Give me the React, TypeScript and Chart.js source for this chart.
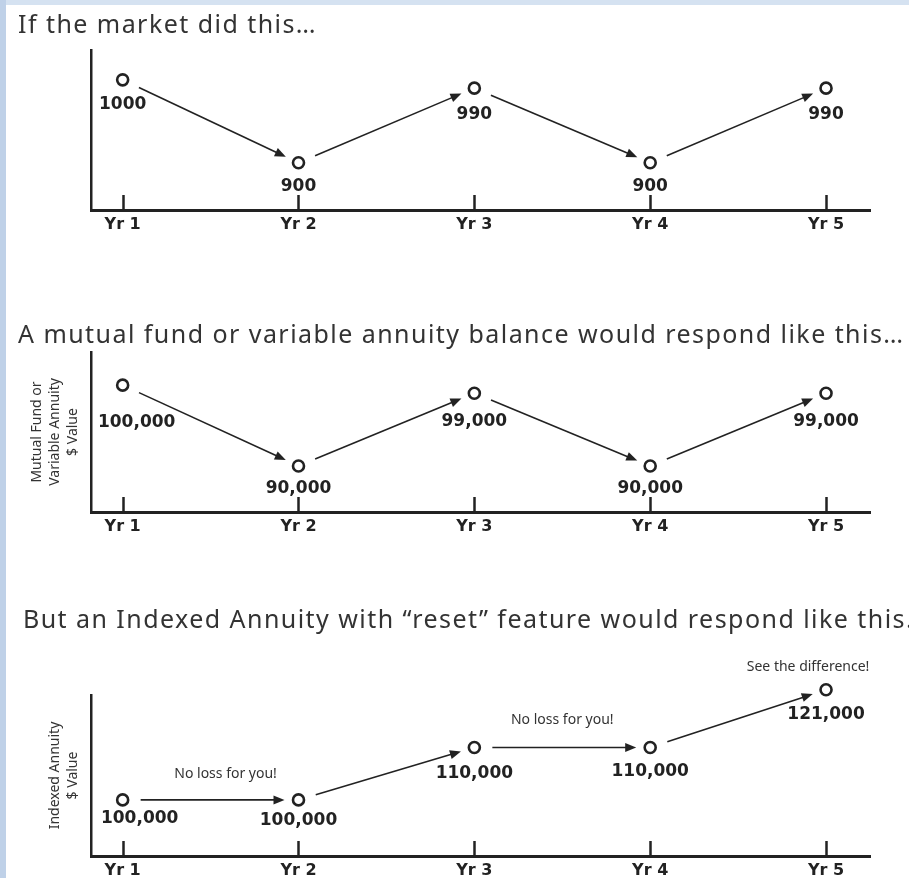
import React, { useEffect, useRef } from "react";
import { Chart, registerables } from "chart.js";

Chart.register(...registerables);

// ---------- data ----------
const years = ["Yr 1", "Yr 2", "Yr 3", "Yr 4", "Yr 5"];
const marketValues = [1000, 900, 990, 900, 990];
const fundValues = [100000, 90000, 99000, 90000, 99000];
const indexedValues = [100000, 100000, 110000, 110000, 121000];

const marketTitle = "If the market did this…";
const fundTitle = "A mutual fund or variable annuity balance would respond like this…";
const indexedTitle = "But an Indexed Annuity with “reset” feature would respond like this…";

const fundAxisTitle = ["Mutual Fund or", "Variable Annuity", "$ Value"];
const indexedAxisTitle = ["Indexed Annuity", "$ Value"];

const indexedNotes = [
  { from: 0, to: 1, text: "No loss for you!" },
  { from: 2, to: 3, text: "No loss for you!" },
  { from: 4, to: 4, text: "See the difference!" },
];

// ---------- styling / layout ----------
const INK = "#222222";
const TEXT = "#333333";
const W = 909;

type Note = { from: number; to: number; text: string };
type Spec = {
  top: number;
  height: number;
  values: number[];
  title: string;
  titleX: number;
  titleY: number;
  axisTitle: string[] | null;
  axisTitlePad: number;
  yMin: number;
  yMax: number;
  padTop: number;
  padBottom: number;
  labelOffsets: [number, number][];
  notes: Note[];
  noteOffsets: [number, number][];
  format: (v: number) => string;
};

const plain = (v: number) => String(v);
const grouped = (v: number) => v.toLocaleString("en-US");

const specs: Spec[] = [
  {
    top: 5,
    height: 240,
    values: marketValues,
    title: marketTitle,
    titleX: 18,
    titleY: 28,
    axisTitle: null,
    axisTitlePad: 0,
    yMin: 843,
    yMax: 1036,
    padTop: 45,
    padBottom: 15,
    labelOffsets: [[0, 25], [0, 24], [0, 26], [0, 24], [0, 26]],
    notes: [],
    noteOffsets: [],
    format: plain,
  },
  {
    top: 290,
    height: 250,
    values: fundValues,
    title: fundTitle,
    titleX: 18,
    titleY: 53,
    axisTitle: fundAxisTitle,
    axisTitlePad: 28,
    yMin: 84300,
    yMax: 104100,
    padTop: 62,
    padBottom: 8,
    labelOffsets: [[14, 37], [0, 23], [0, 28], [0, 23], [0, 28]],
    notes: [],
    noteOffsets: [],
    format: grouped,
  },
  {
    top: 595,
    height: 283,
    values: indexedValues,
    title: indexedTitle,
    titleX: 23,
    titleY: 33,
    axisTitle: indexedAxisTitle,
    axisTitlePad: 46,
    yMin: 89300,
    yMax: 120000,
    padTop: 100,
    padBottom: 2,
    labelOffsets: [[17, 19], [0, 21], [0, 26], [0, 24], [0, 25]],
    notes: indexedNotes,
    noteOffsets: [[15, -26], [0, -27], [-18, -23]],
    format: grouped,
  },
];

function drawArrow(ctx: CanvasRenderingContext2D, x0: number, y0: number, x1: number, y1: number) {
  const dx = x1 - x0;
  const dy = y1 - y0;
  const L = Math.hypot(dx, dy);
  if (L < 1) return;
  const ux = dx / L;
  const uy = dy / L;
  const sx = x0 + ux * 18;
  const sy = y0 + uy * 18;
  const ex = x1 - ux * 14;
  const ey = y1 - uy * 14;
  const head = 11;
  const hw = 4.5;
  const bx = ex - ux * head;
  const by = ey - uy * head;
  ctx.beginPath();
  ctx.lineWidth = 1.6;
  ctx.moveTo(sx, sy);
  ctx.lineTo(bx + ux * 2, by + uy * 2);
  ctx.stroke();
  ctx.beginPath();
  ctx.moveTo(ex, ey);
  ctx.lineTo(bx - uy * hw, by + ux * hw);
  ctx.lineTo(bx + uy * hw, by - ux * hw);
  ctx.closePath();
  ctx.fill();
}

function decorPlugin(s: Spec) {
  return {
    id: "decor",
    afterDraw(chart: any) {
      const ctx: CanvasRenderingContext2D = chart.ctx;
      const { bottom } = chart.chartArea;
      const xs = chart.scales.x;
      ctx.save();

      // panel title
      ctx.fillStyle = TEXT;
      ctx.font = '25px "Noto Sans"';
      (ctx as any).letterSpacing = "1.45px";
      ctx.textAlign = "left";
      ctx.textBaseline = "alphabetic";
      ctx.fillText(s.title, s.titleX, s.titleY);
      (ctx as any).letterSpacing = "0px";

      // upward tick marks on the x axis
      ctx.strokeStyle = INK;
      ctx.fillStyle = INK;
      ctx.lineWidth = 2.5;
      xs.ticks.forEach((t: any) => {
        const px = Math.round(xs.getPixelForValue(t.value)) + 0.5;
        ctx.beginPath();
        ctx.moveTo(px, bottom);
        ctx.lineTo(px, bottom - 15);
        ctx.stroke();
      });

      // arrows between consecutive points
      const pts = chart.getDatasetMeta(0).data;
      for (let i = 0; i < pts.length - 1; i++) {
        drawArrow(ctx, pts[i].x, pts[i].y, pts[i + 1].x, pts[i + 1].y);
      }

      // value labels
      ctx.fillStyle = INK;
      ctx.font = 'bold 17px "DejaVu Sans"';
      ctx.textAlign = "center";
      ctx.textBaseline = "middle";
      pts.forEach((p: any, i: number) => {
        const [dx, dy] = s.labelOffsets[i] || [0, 24];
        ctx.fillText(s.format(s.values[i]), p.x + dx, p.y + dy);
      });

      // notes
      ctx.fillStyle = TEXT;
      ctx.font = '14px "Noto Sans"';
      s.notes.forEach((n, k) => {
        const a = pts[n.from];
        const b = pts[n.to];
        const [dx, dy] = s.noteOffsets[k] || [0, -25];
        ctx.fillText(n.text, (a.x + b.x) / 2 + dx, (a.y + b.y) / 2 + dy);
      });

      ctx.restore();
    },
  };
}

function buildConfig(s: Spec): any {
  return {
    type: "scatter",
    data: {
      datasets: [
        {
          data: s.values.map((v, i) => ({ x: i + 1, y: v })),
          showLine: false,
          pointStyle: "circle",
          pointRadius: 5.5,
          pointHoverRadius: 5.5,
          pointBorderWidth: 2.6,
          pointBackgroundColor: "#ffffff",
          pointBorderColor: INK,
          clip: false,
        },
      ],
    },
    options: {
      responsive: false,
      maintainAspectRatio: false,
      animation: false,
      devicePixelRatio: 1,
      events: [],
      layout: { padding: { top: s.padTop, bottom: s.padBottom, left: 0, right: 39 } },
      plugins: {
        legend: { display: false },
        tooltip: { enabled: false },
        title: { display: false },
      },
      scales: {
        x: {
          type: "linear",
          min: 0.82,
          max: 5.25,
          afterBuildTicks: (sc: any) => {
            sc.ticks = years.map((_, i) => ({ value: i + 1 }));
          },
          afterFit: (sc: any) => {
            sc.height = 20;
          },
          grid: { display: false, drawTicks: false },
          border: { display: true, color: INK, width: 3 },
          ticks: {
            color: INK,
            padding: 5,
            autoSkip: false,
            maxRotation: 0,
            font: { family: '"DejaVu Sans"', size: 16, weight: "bold" },
            callback: (v: any) => years[Math.round(Number(v)) - 1] ?? "",
          },
        },
        y: {
          type: "linear",
          min: s.yMin,
          max: s.yMax,
          afterFit: (sc: any) => {
            sc.width = 91;
          },
          grid: { display: false, drawTicks: false },
          border: { display: true, color: INK, width: 2.5 },
          ticks: { display: false },
          title: {
            display: !!s.axisTitle,
            text: s.axisTitle || "",
            color: TEXT,
            font: { family: '"Noto Sans"', size: 14, lineHeight: 1.3 },
            padding: { top: s.axisTitlePad, bottom: 0 },
          },
        },
      },
    },
    plugins: [decorPlugin(s)],
  };
}

function Panel({ spec }: { spec: Spec }) {
  const ref = useRef<HTMLCanvasElement | null>(null);
  useEffect(() => {
    if (!ref.current) return;
    const chart = new Chart(ref.current, buildConfig(spec));
    return () => chart.destroy();
  }, [spec]);
  return (
    <canvas
      ref={ref}
      width={W}
      height={spec.height}
      style={{ position: "absolute", left: 0, top: spec.top, width: W, height: spec.height }}
    />
  );
}

export default function App() {
  return (
    <div
      style={{
        position: "fixed",
        left: 0,
        top: 0,
        width: W,
        height: 878,
        background: "#ffffff",
        overflow: "hidden",
      }}
    >
      <div style={{ position: "absolute", left: 0, top: 0, width: W, height: 5, background: "#d5e2f1" }} />
      <div style={{ position: "absolute", left: 0, top: 0, width: 6, height: 878, background: "#bfd1e8" }} />
      {specs.map((s, i) => (
        <Panel key={i} spec={s} />
      ))}
    </div>
  );
}
